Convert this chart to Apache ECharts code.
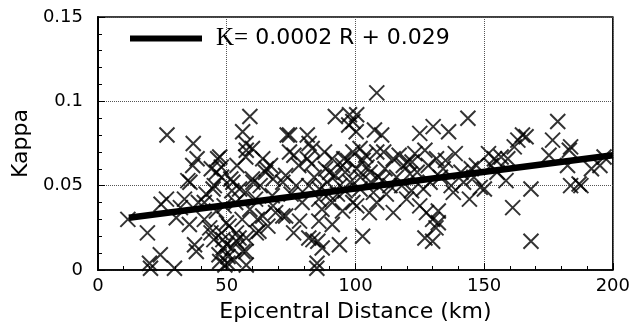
<!DOCTYPE html>
<html>
<head>
<meta charset="utf-8">
<script src="https://cdn.jsdelivr.net/npm/echarts@6/dist/echarts.min.js"></script>
<style>
  html, body { margin: 0; padding: 0; background: #fff; }
  #main { width: 633px; height: 328px; }
</style>
</head>
<body>
<div id="main"></div>
<script>
// epicentral distance (km) of each record
var distance = [
  11.6, 19.2, 20, 20.4, 24.2, 24.5, 26.6, 26.8, 29.7, 30.4,
  33.6, 34.9, 35.5, 37, 38.5, 36.8, 37.5, 38.2, 35.7, 39,
  32, 41.3, 41.3, 43.4, 43.9, 45.2, 44.7, 46.5, 47.3, 47.9,
  48.6, 47.3, 49.3, 49.9, 48, 46, 42, 45, 48, 50,
  50.5, 47, 49, 46, 51.6, 52.4, 53.5, 53.8, 53.8, 50.9,
  52.2, 52.8, 54.8, 56.3, 57.4, 57.6, 57.6, 57.4, 57.4, 57.6,
  56.2, 59, 57.5, 60, 60.2, 60, 55, 56, 59, 54,
  52, 61.2, 61.9, 61.5, 62.5, 65.1, 65.4, 67, 67.7, 68,
  69, 64, 63, 66, 68, 64, 71.8, 71.8, 72.9, 72.9,
  73.5, 74.4, 74.4, 76.1, 78, 78.3, 79.3, 75, 77, 76,
  81.3, 82, 83.2, 81.3, 81.9, 81.9, 83.5, 85.4, 85.8, 85.8,
  87.1, 85.1, 85, 88.4, 84, 86, 89, 87, 83, 88,
  91, 92.2, 92.2, 91, 91, 93.8, 97.4, 97.7, 99, 99,
  95, 96, 94, 98, 93, 97, 95, 99, 90, 96,
  100.3, 100.5, 101.8, 100.5, 101.8, 100.5, 102.8, 105.7, 105.4, 107,
  107.4, 108.3, 108.3, 108.3, 103, 106, 104, 109, 102, 110.2,
  111.5, 113.4, 114.7, 114.7, 118.6, 119.9, 112, 116, 117, 111,
  118, 121.2, 121.8, 123.1, 125, 125, 126.4, 127, 127.6, 127,
  128.3, 130.2, 130, 130, 122, 124, 129, 131.5, 132.2, 132.2,
  131.3, 134.1, 136.2, 137.2, 138, 138.8, 133, 135, 143.7, 144.3,
  147, 148.5, 141, 145, 142, 146, 150.1, 151.7, 152.7, 154,
  156.6, 158.5, 159.2, 155, 161.1, 161.7, 163.1, 164.9, 166.3, 168.2,
  168.2, 175.2, 176.6, 178.6, 183.1, 183.6, 182.4, 183.6, 186.9, 187.6,
  191.7, 195, 196.6,
  44, 48.5, 50.5, 95.5, 104.5, 120.5, 89.5, 110.5
];
// kappa of each record, same order
var kappa = [
  0.030, 0.022, 0.004, 0.001, 0.009, 0.039, 0.042, 0.080, 0.001, 0.031,
  0.042, 0.053, 0.027, 0.075, 0.066, 0.062, 0.015, 0.011, 0.052, 0.040,
  0.037, 0.030, 0.040, 0.025, 0.022, 0.050, 0.048, 0.066, 0.067, 0.061,
  0.013, 0.005, 0.003, 0.028, 0.055, 0.035, 0.045, 0.018, 0.022, 0.015,
  0.008, 0.009, 0.038, 0.058, 0.054, 0.052, 0.040, 0.022, 0.017, 0.026,
  0.013, 0.006, 0.019, 0.011, 0.011, 0.003, 0.019, 0.046, 0.067, 0.071,
  0.082, 0.091, 0.075, 0.072, 0.052, 0.054, 0.048, 0.030, 0.036, 0.062,
  0.047, 0.042, 0.030, 0.022, 0.023, 0.058, 0.060, 0.062, 0.044, 0.038,
  0.034, 0.032, 0.050, 0.026, 0.054, 0.066, 0.052, 0.032, 0.056, 0.032,
  0.080, 0.080, 0.070, 0.068, 0.062, 0.029, 0.040, 0.045, 0.050, 0.022,
  0.080, 0.075, 0.072, 0.066, 0.050, 0.019, 0.018, 0.017, 0.042, 0.029,
  0.013, 0.004, 0.001, 0.060, 0.055, 0.048, 0.052, 0.036, 0.063, 0.070,
  0.066, 0.091, 0.056, 0.040, 0.027, 0.015, 0.086, 0.092, 0.088, 0.040,
  0.062, 0.058, 0.050, 0.052, 0.045, 0.065, 0.035, 0.070, 0.058, 0.047,
  0.082, 0.092, 0.072, 0.060, 0.048, 0.038, 0.020, 0.058, 0.034, 0.046,
  0.083, 0.070, 0.040, 0.105, 0.065, 0.052, 0.068, 0.055, 0.055, 0.080,
  0.060, 0.050, 0.066, 0.034, 0.062, 0.042, 0.045, 0.055, 0.068, 0.070,
  0.050, 0.057, 0.047, 0.069, 0.081, 0.038, 0.048, 0.071, 0.034, 0.019,
  0.062, 0.085, 0.030, 0.017, 0.064, 0.058, 0.052, 0.066, 0.035, 0.028,
  0.025, 0.060, 0.082, 0.050, 0.046, 0.069, 0.055, 0.065, 0.090, 0.042,
  0.062, 0.049, 0.058, 0.060, 0.052, 0.055, 0.048, 0.069, 0.062, 0.066,
  0.067, 0.053, 0.066, 0.058, 0.037, 0.073, 0.077, 0.080, 0.079, 0.048,
  0.017, 0.068, 0.077, 0.088, 0.071, 0.073, 0.062, 0.050, 0.051, 0.050,
  0.060, 0.062, 0.067,
  0.060, 0.018, 0.004, 0.066, 0.061, 0.064, 0.045, 0.053
];
// regression line K = 0.0002 R + 0.029, end points as drawn
var fitDistance = [12, 200];
var fitKappa = [0.031, 0.068];
var fitLabel = 'K= 0.0002 R + 0.029';

var points = distance.map(function (d, i) { return [d, kappa[i]]; });
var fitLine = fitDistance.map(function (d, i) { return [d, fitKappa[i]]; });

var font = 'DejaVu Sans';
var myChart = echarts.init(document.getElementById('main'));
var option = {
  backgroundColor: '#fff',
  animation: false,
  grid: {
    left: 98, right: 19, top: 17, bottom: 57,
    show: true, borderColor: '#000', borderWidth: 1.5
  },
  legend: {
    left: 125, top: 21,
    icon: 'rect', itemWidth: 72, itemHeight: 6,
    data: [{ name: fitLabel }],
    formatter: function () { return '{k|K=} 0.0002 R + 0.029'; },
    textStyle: {
      fontFamily: font, fontSize: 22, color: '#000', padding: [0, 0, 0, 9],
      rich: { k: { fontFamily: 'Liberation Serif', fontSize: 25, color: '#000' } }
    }
  },
  xAxis: {
    type: 'value', min: 0, max: 200, interval: 50,
    name: 'Epicentral Distance (km)', nameLocation: 'middle', nameGap: 31,
    nameTextStyle: { fontFamily: font, fontSize: 22, color: '#000' },
    axisLine: { lineStyle: { color: '#000', width: 1.5 } },
    axisTick: { inside: true, length: 7, lineStyle: { color: '#000' } },
    minorTick: { show: true, splitNumber: 5, length: 4, lineStyle: { color: '#000' } },
    axisLabel: { fontFamily: font, fontSize: 18, color: '#000', margin: 7 },
    splitLine: { lineStyle: { color: '#555', type: 'dotted', width: 1 } }
  },
  yAxis: {
    type: 'value', min: 0, max: 0.15, interval: 0.05,
    name: 'Kappa', nameLocation: 'middle', nameGap: 64, nameRotate: 90,
    nameTextStyle: { fontFamily: font, fontSize: 22, color: '#000' },
    axisLine: { lineStyle: { color: '#000', width: 2 } },
    axisTick: { inside: true, length: 7, lineStyle: { color: '#000' } },
    minorTick: { show: true, splitNumber: 5, length: 4, lineStyle: { color: '#000' } },
    axisLabel: { fontFamily: font, fontSize: 18, color: '#000', margin: 15 },
    splitLine: { lineStyle: { color: '#555', type: 'dotted', width: 1 } }
  },
  series: [
    {
      type: 'scatter',
      data: points,
      symbol: 'path://M0,0L10,10M10,0L0,10',
      symbolSize: 15,
      itemStyle: { color: 'none', borderColor: '#000', borderWidth: 2 }
    },
    {
      name: fitLabel,
      type: 'line',
      data: fitLine,
      showSymbol: false,
      symbol: 'none',
      lineStyle: { color: '#000', width: 6.5 },
      itemStyle: { color: '#000' }
    }
  ]
};
myChart.setOption(option);
</script>
</body>
</html>
